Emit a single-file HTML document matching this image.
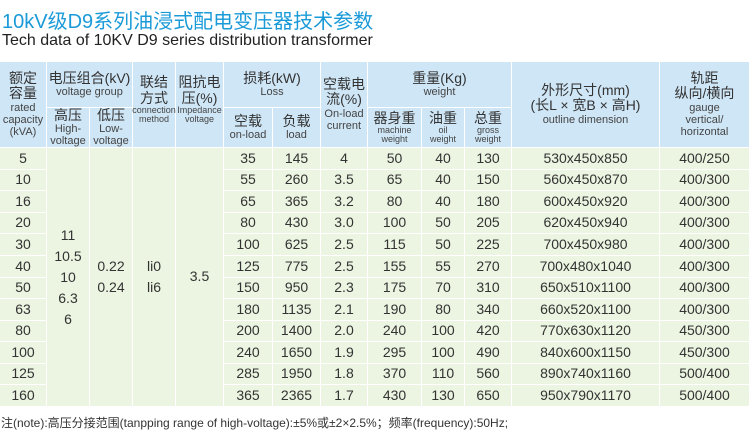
<!DOCTYPE html>
<html><head><meta charset="utf-8"><style>
body{margin:0;width:750px;height:440px;background:#fff;position:relative;overflow:hidden;font-family:"Liberation Sans","Noto Sans CJK SC",sans-serif;color:#333}
.c{position:absolute;box-sizing:border-box;border-right:1px solid #fff;border-bottom:1px solid #fff;display:flex;flex-direction:column;align-items:center;justify-content:center;text-align:center;line-height:1.1}
.h{background:#cfe6f6}
.b{background:#ebf5e1;font-size:14px}
.m{line-height:21px}
.z{font-size:14px}
.e{font-size:11px;color:#444}
.s{font-size:9px;color:#444;line-height:1}
</style></head><body>
<div style="position:absolute;left:2px;top:5px;font-size:20px;color:#1b9ad8;white-space:nowrap">10kV级D9系列油浸式配电变压器技术参数</div>
<div style="position:absolute;left:2px;top:32px;font-size:16px;color:#222;white-space:nowrap">Tech data of 10KV D9 series distribution transformer</div>
<div id="t"></div>
<div style="position:absolute;left:1px;top:414px;font-size:12px;color:#333;white-space:nowrap">注(note):高压分接范围(tanpping range of high-voltage):±5%或±2×2.5%；频率(frequency):50Hz;</div>
<script>
var X=[0,47,90,133,176,224,273,321,368,422,465,512,660,750];
var Y0=62,Y1=108,Y2=148,N=12,RH=(407-148)/N;
var H='';
function cell(c0,c1,y0,y1,cls,html){H+='<div class="c '+cls+'" style="left:'+X[c0]+'px;width:'+(X[c1]-X[c0])+'px;top:'+y0+'px;height:'+(y1-y0)+'px">'+html+'</div>';}
cell(0,1,Y0,Y2,'h','<span class="z">额定<br>容量</span><span class="e">rated<br>capacity<br>(kVA)</span>');
cell(1,3,Y0,Y1,'h','<span class="z">电压组合(kV)</span><span class="e">voltage group</span>');
cell(1,2,Y1,Y2,'h','<span class="z">高压</span><span class="e">High-<br>voltage</span>');
cell(2,3,Y1,Y2,'h','<span class="z">低压</span><span class="e">Low-<br>voltage</span>');
cell(3,4,Y0,Y2,'h','<span class="z" style="margin-top:-10px">联结<br>方式</span><span class="s">connection<br>method</span>');
cell(4,5,Y0,Y2,'h','<span class="z" style="margin-top:-10px">阻抗电<br>压(%)</span><span class="s">Impedance<br>voltage</span>');
cell(5,7,Y0,Y1,'h','<span class="z">损耗(kW)</span><span class="e">Loss</span>');
cell(5,6,Y1,Y2,'h','<span class="z">空载</span><span class="e">on-load</span>');
cell(6,7,Y1,Y2,'h','<span class="z">负载</span><span class="e">load</span>');
cell(7,8,Y0,Y2,'h','<span class="z">空载电<br>流(%)</span><span class="e">On-load<br>current</span>');
cell(8,11,Y0,Y1,'h','<span class="z">重量(Kg)</span><span class="e">weight</span>');
cell(8,9,Y1,Y2,'h','<span class="z">器身重</span><span class="s">machine<br>weight</span>');
cell(9,10,Y1,Y2,'h','<span class="z">油重</span><span class="s">oil<br>weight</span>');
cell(10,11,Y1,Y2,'h','<span class="z">总重</span><span class="s">gross<br>weight</span>');
cell(11,12,Y0,Y2,'h','<span class="z">外形尺寸(mm)<br>(长L × 宽B × 高H)</span><span class="e">outline dimension</span>');
cell(12,13,Y0,Y2,'h','<span class="z">轨距<br>纵向/横向</span><span class="e">gauge<br>vertical/<br>horizontal</span>');
var D=[["5",35,145,4,50,40,130,"530x450x850","400/250"],["10",55,260,3.5,65,40,150,"560x450x870","400/300"],["16",65,365,3.2,80,40,180,"600x450x920","400/300"],["20",80,430,"3.0",100,50,205,"620x450x940","400/300"],["30",100,625,2.5,115,50,225,"700x450x980","400/300"],["40",125,775,2.5,155,55,270,"700x480x1040","400/300"],["50",150,950,2.3,175,70,310,"650x510x1100","400/300"],["63",180,1135,2.1,190,80,340,"660x520x1100","400/300"],["80",200,1400,"2.0",240,100,420,"770x630x1120","450/300"],["100",240,1650,1.9,295,100,490,"840x600x1150","450/300"],["125",285,1950,1.8,370,110,560,"890x740x1160","500/400"],["160",365,2365,1.7,430,130,650,"950x790x1170","500/400"]];
var cols=[0,5,6,7,8,9,10,11,12];
for(var i=0;i<N;i++){var y0=Math.round(Y2+i*RH),y1=Math.round(Y2+(i+1)*RH);var r=D[i];
for(var k=0;k<9;k++)cell(cols[k],cols[k]+1,y0,y1,'b',r[k]);}
cell(1,2,Y2,407,'b m','11<br>10.5<br>10<br>6.3<br>6');
cell(2,3,Y2,407,'b m','0.22<br>0.24');
cell(3,4,Y2,407,'b m','li0<br>li6');
cell(4,5,Y2,407,'b','3.5');
document.getElementById('t').innerHTML=H;
</script>
</body></html>
